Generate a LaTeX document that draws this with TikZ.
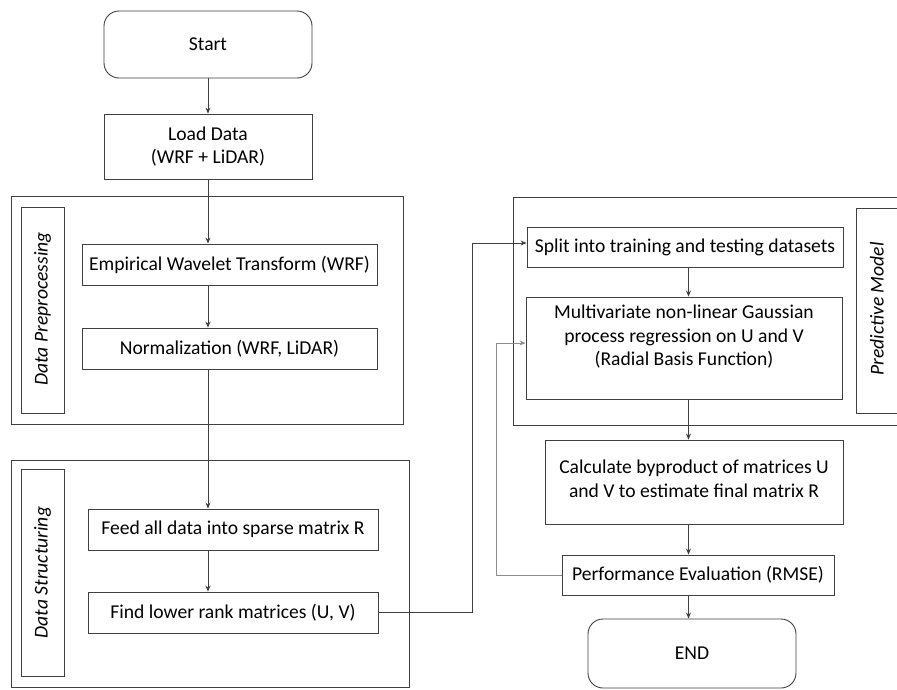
\documentclass[tikz,border=0pt]{standalone}
\usepackage{fontspec}
\setmainfont{Carlito}
\usetikzlibrary{arrows.meta,calc}
\definecolor{ln}{HTML}{404040}
\definecolor{fbc}{HTML}{8C8C8C}
\begin{document}
\begin{tikzpicture}[x=1pt,y=-1pt,
  every node/.style={font=\fontsize{19.6}{23.5}\selectfont, text=black},
  box/.style={draw=ln, line width=0.9pt, rectangle, inner sep=0pt, align=center},
  rbox/.style={box, rounded corners=15pt},
  grp/.style={draw=ln, line width=0.9pt},
  lab/.style={font=\fontsize{19.6}{23.5}\selectfont\itshape, rotate=90},
  arr/.style={draw=ln, line width=0.7pt, -{Stealth[length=6pt,width=5pt]}},
  fb/.style={draw=fbc, line width=0.7pt, -{Stealth[length=6pt,width=5pt]}}
]
\useasboundingbox (0,0) rectangle (897,689);
\path[fill=white] (0,0) rectangle (897,689);

% group frames
\draw[grp] (11,196) rectangle (403,424);
\draw[grp] (21,207) rectangle (64,413);
\node[lab] (labpre) at (42.5,309) {Data Preprocessing};

\draw[grp] (11,460) rectangle (409,687);
\draw[grp] (21,469) rectangle (64,676);
\node[lab] (labstr) at (42.5,572.5) {Data Structuring};

\draw[grp] (513,197) rectangle (905,425);
\draw[grp] (856,208) rectangle (905,413);
\node[lab] (labpred) at (877,309) {Predictive Model};

% nodes
\node[rbox, minimum width=208pt, minimum height=67pt] (start) at (208,44.5) {Start};
\node[box, minimum width=208pt, minimum height=65pt] (load) at (208,146.5) {Load Data\\(WRF + LiDAR)};
\node[box, minimum width=295pt, minimum height=41pt] (ewt) at (229.5,264.5) {Empirical Wavelet Transform (WRF)};
\node[box, minimum width=295pt, minimum height=41pt] (norm) at (229.5,348.5) {Normalization (WRF, LiDAR)};
\node[box, minimum width=290pt, minimum height=41pt] (feed) at (233,529.5) {Feed all data into sparse matrix R};
\node[box, minimum width=290pt, minimum height=41pt] (find) at (233,612.5) {Find lower rank matrices (U, V)};

\node[box, minimum width=316pt, minimum height=40pt] (split) at (685,247) {Split into training and testing datasets};
\node[box, minimum width=316pt, minimum height=102pt] (multi) at (684,348) {};
\node[align=center] (multit) at (684,337) {Multivariate non-linear Gaussian\\process regression on U and V\\(Radial Basis Function)};
\node[box, minimum width=298pt, minimum height=84pt] (calc) at (694,482) {};
\node[align=center] (calct) at (694,479) {Calculate byproduct of matrices U\\and V to estimate final matrix R};
\node[box, minimum width=272pt, minimum height=40pt] (perf) at (698,575) {Performance Evaluation (RMSE)};
\node[rbox, minimum width=208pt, minimum height=69pt] (end) at (692,653.5) {END};

\coordinate (colL) at (208,0);
\coordinate (colR) at (688.5,0);

% connectors
\draw[arr] (start.south -| colL) -- (load.north -| colL);
\draw[arr] (load.south -| colL) -- (ewt.north -| colL);
\draw[arr] (ewt.south -| colL) -- (norm.north -| colL);
\draw[arr] (norm.south -| colL) -- (feed.north -| colL);
\draw[arr] (feed.south -| colL) -- (find.north -| colL);
\draw[arr] (find.east) -- ++(94,0) |- ($(split.west)+(0,-4)$);
\draw[arr] (split.south -| colR) -- (multi.north -| colR);
\draw[arr] (multi.south -| colR) -- (calc.north -| colR);
\draw[arr] (calc.south -| colR) -- (perf.north -| colR);
\draw[arr] (perf.south -| colR) -- (end.north -| colR);
\draw[fb] (perf.west) -- ++(-65,0) |- ($(multi.west)+(0,-5)$);
\end{tikzpicture}
\end{document}
